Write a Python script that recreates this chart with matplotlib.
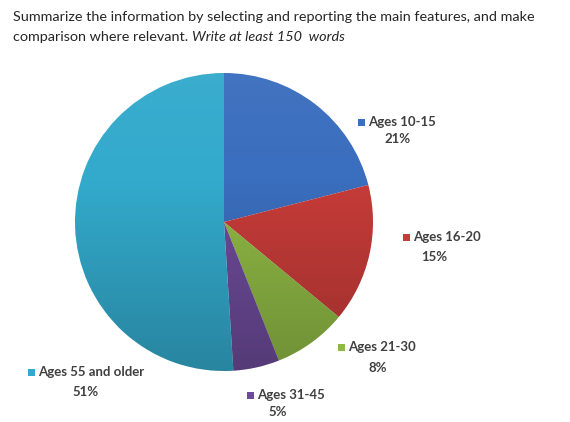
import matplotlib
matplotlib.use('Agg')
import matplotlib.pyplot as plt
import numpy as np
from matplotlib.patches import Rectangle, Circle

# data
labels = ['Ages 10-15', 'Ages 16-20', 'Ages 21-30', 'Ages 31-45', 'Ages 55 and older']
values = [21, 15, 8, 5, 51]
colors = ['#3A6EBE', '#C63C39', '#8FB845', '#6D4B99', '#33AACC']

W, H = 570, 422
fig = plt.figure(figsize=(W / 100, H / 100), dpi=100)
fig.patch.set_facecolor('white')

def px(x, y):
    return x / W, 1 - y / H

cx, cy, r = 224, 222, 149
ax = fig.add_axes([(cx - r) / W, (H - cy - r) / H, 2 * r / W, 2 * r / H])

wedges, _ = ax.pie(values, colors=colors, startangle=90, counterclock=False,
                   radius=1, center=(0, 0), frame=True,
                   wedgeprops=dict(linewidth=0))

# vertical shading like the excel chart: lighter on top, darker at the bottom
t = np.linspace(0, 1, 256)[:, None]
shade = np.zeros((256, 2, 4))
top = t < 0.35
shade[..., :3] = np.where(top[..., None], 1.0, 0.0)
shade[..., 3] = np.where(top, (0.35 - t) / 0.35 * 0.04, (t - 0.35) / 0.65 * 0.22)
im = ax.imshow(shade, extent=(-1, 1, -1, 1), origin='upper', aspect='auto', zorder=5)
clip = Circle((0, 0), 1, transform=ax.transData)
im.set_clip_path(clip)
ax.set_xlim(-1, 1)
ax.set_ylim(-1, 1)
ax.axis('off')

# title text
font = 'Lato'
tc = '#262626'
fs = 10.4
fig.text(*px(13, 17), 'Summarize the information by selecting and reporting the main features, and make',
         fontsize=fs, family=font, color=tc, va='center', ha='left')
t1 = fig.text(*px(13, 37), 'comparison where relevant. ', fontsize=fs, family=font, color=tc,
              va='center', ha='left')
fig.canvas.draw()
bb = t1.get_window_extent()
fig.text(bb.x1 / W, 1 - 37 / H, 'Write at least 150  words', fontsize=fs, family=font,
         style='italic', color=tc, va='center', ha='left')

# data labels
lab_pos = [(358, 122, 398, 139), (403, 237, 434, 257), (338, 347, 378, 368),
           (247, 395, 278, 412), (28, 372, 86, 392)]
lc = '#404040'
for (sx, sy, px_, py_), name, v, c in zip(lab_pos, labels, values, colors):
    fig.patches.append(Rectangle(px(sx, sy + 3.5), 7 / W, 7 / H, transform=fig.transFigure,
                                 facecolor=c, edgecolor='none'))
    fig.text(*px(sx + 10, sy), name, fontsize=9.5, family=font, color=lc, va='center', ha='left',
             fontweight='bold')
    fig.text(*px(px_, py_), '%d%%' % v, fontsize=9.5, family=font, color=lc, va='center',
             ha='center', fontweight='bold')

fig.savefig('out.png', dpi=100)
